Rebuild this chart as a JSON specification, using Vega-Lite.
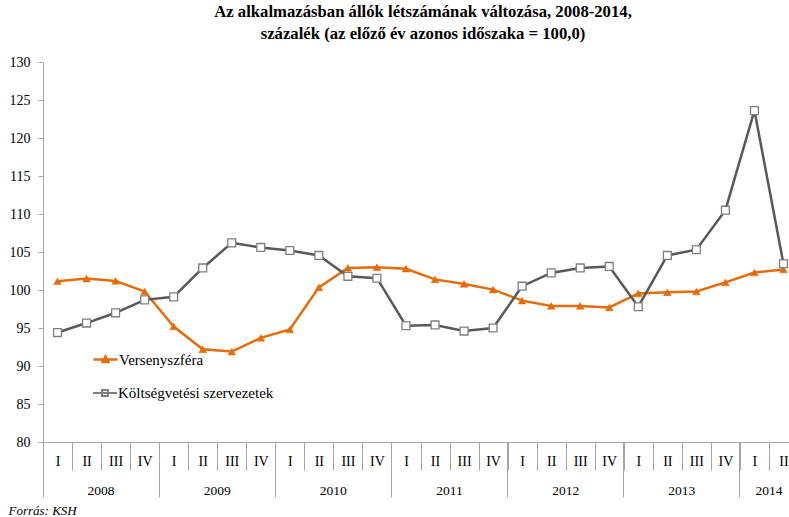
{
  "$schema": "https://vega.github.io/schema/vega-lite/v6.json",
  "autosize": {"type": "none"},
  "padding": {"left": 43, "top": 62, "right": 0, "bottom": 75},
  "width": 746,
  "height": 380,
  "background": "white",
  "config": {
    "view": {"stroke": null},
    "font": "Liberation Serif",
    "axis": {"labelFont": "Liberation Serif", "labelColor": "#000000", "labelFontSize": 13.5},
    "legend": {"labelFont": "Liberation Serif", "labelColor": "#000000", "labelFontSize": 15}
  },
  "title": {
    "text": ["Az alkalmazásban állók létszámának változása, 2008-2014,", "százalék (az előző év azonos időszaka = 100,0)"],
    "font": "Liberation Serif",
    "fontSize": 16.7,
    "fontWeight": "bold",
    "color": "#000000",
    "anchor": "middle",
    "lineHeight": 22,
    "offset": 12,
    "dx": 7
  },
  "datasets": {
    "series": [
      {"q": "2008-I", "s": "Versenyszféra", "v": 101.15},
      {"q": "2008-II", "s": "Versenyszféra", "v": 101.5},
      {"q": "2008-III", "s": "Versenyszféra", "v": 101.2},
      {"q": "2008-IV", "s": "Versenyszféra", "v": 99.8},
      {"q": "2009-I", "s": "Versenyszféra", "v": 95.2},
      {"q": "2009-II", "s": "Versenyszféra", "v": 92.2},
      {"q": "2009-III", "s": "Versenyszféra", "v": 91.9},
      {"q": "2009-IV", "s": "Versenyszféra", "v": 93.7},
      {"q": "2010-I", "s": "Versenyszféra", "v": 94.8},
      {"q": "2010-II", "s": "Versenyszféra", "v": 100.35},
      {"q": "2010-III", "s": "Versenyszféra", "v": 102.9},
      {"q": "2010-IV", "s": "Versenyszféra", "v": 103.0},
      {"q": "2011-I", "s": "Versenyszféra", "v": 102.8},
      {"q": "2011-II", "s": "Versenyszféra", "v": 101.4},
      {"q": "2011-III", "s": "Versenyszféra", "v": 100.8},
      {"q": "2011-IV", "s": "Versenyszféra", "v": 100.05},
      {"q": "2012-I", "s": "Versenyszféra", "v": 98.6},
      {"q": "2012-II", "s": "Versenyszféra", "v": 97.9},
      {"q": "2012-III", "s": "Versenyszféra", "v": 97.9},
      {"q": "2012-IV", "s": "Versenyszféra", "v": 97.7},
      {"q": "2013-I", "s": "Versenyszféra", "v": 99.55},
      {"q": "2013-II", "s": "Versenyszféra", "v": 99.7},
      {"q": "2013-III", "s": "Versenyszféra", "v": 99.8},
      {"q": "2013-IV", "s": "Versenyszféra", "v": 101.0},
      {"q": "2014-I", "s": "Versenyszféra", "v": 102.3},
      {"q": "2014-II", "s": "Versenyszféra", "v": 102.7},
      {"q": "2008-I", "s": "Költségvetési szervezetek", "v": 94.4},
      {"q": "2008-II", "s": "Költségvetési szervezetek", "v": 95.65},
      {"q": "2008-III", "s": "Költségvetési szervezetek", "v": 97.0},
      {"q": "2008-IV", "s": "Költségvetési szervezetek", "v": 98.7},
      {"q": "2009-I", "s": "Költségvetési szervezetek", "v": 99.1},
      {"q": "2009-II", "s": "Költségvetési szervezetek", "v": 102.9},
      {"q": "2009-III", "s": "Költségvetési szervezetek", "v": 106.2},
      {"q": "2009-IV", "s": "Költségvetési szervezetek", "v": 105.6},
      {"q": "2010-I", "s": "Költségvetési szervezetek", "v": 105.2},
      {"q": "2010-II", "s": "Költségvetési szervezetek", "v": 104.55},
      {"q": "2010-III", "s": "Költségvetési szervezetek", "v": 101.8},
      {"q": "2010-IV", "s": "Költségvetési szervezetek", "v": 101.55},
      {"q": "2011-I", "s": "Költségvetési szervezetek", "v": 95.3},
      {"q": "2011-II", "s": "Költségvetési szervezetek", "v": 95.4},
      {"q": "2011-III", "s": "Költségvetési szervezetek", "v": 94.6},
      {"q": "2011-IV", "s": "Költségvetési szervezetek", "v": 95.0},
      {"q": "2012-I", "s": "Költségvetési szervezetek", "v": 100.5},
      {"q": "2012-II", "s": "Költségvetési szervezetek", "v": 102.25},
      {"q": "2012-III", "s": "Költségvetési szervezetek", "v": 102.9},
      {"q": "2012-IV", "s": "Költségvetési szervezetek", "v": 103.1},
      {"q": "2013-I", "s": "Költségvetési szervezetek", "v": 97.8},
      {"q": "2013-II", "s": "Költségvetési szervezetek", "v": 104.55},
      {"q": "2013-III", "s": "Költségvetési szervezetek", "v": 105.3},
      {"q": "2013-IV", "s": "Költségvetési szervezetek", "v": 110.5},
      {"q": "2014-I", "s": "Költségvetési szervezetek", "v": 123.6},
      {"q": "2014-II", "s": "Költségvetési szervezetek", "v": 103.45}
    ]
  },
  "data": {"name": "series"},
  "encoding": {
    "y": {
      "field": "v", "type": "quantitative",
      "scale": {"domain": [80, 130], "nice": false, "zero": false},
      "axis": {
        "title": null, "values": [80, 85, 90, 95, 100, 105, 110, 115, 120, 125, 130],
        "labelOverlap": false, "grid": false, "tickSize": 5, "tickColor": "#A6A6A6", "domainColor": "#A6A6A6",
        "labelFont": "Liberation Serif", "labelFontSize": 14, "labelColor": "#000000", "labelPadding": 8
      }
    }
  },
  "resolve": {"axis": {"x": "independent"}},
  "layer": [
    {
      "transform": [{"filter": "datum.s === 'Versenyszféra'"}],
      "mark": {"type": "line", "color": "#E46C0A", "strokeWidth": 2.5},
      "encoding": {
        "x": {
          "field": "q", "type": "ordinal",
          "scale": {"domain": ["2008-I","2008-II","2008-III","2008-IV","2009-I","2009-II","2009-III","2009-IV","2010-I","2010-II","2010-III","2010-IV","2011-I","2011-II","2011-III","2011-IV","2012-I","2012-II","2012-III","2012-IV","2013-I","2013-II","2013-III","2013-IV","2014-I","2014-II"], "range": [0, 755], "paddingInner": 0, "paddingOuter": 0},
          "axis": {
            "orient": "bottom",
            "title": "Forrás: KSH",
            "titleFont": "Liberation Serif", "titleFontStyle": "italic", "titleFontWeight": "normal", "titleFontSize": 13, "titleColor": "#000000",
            "titleX": -35, "titleY": 72, "titleAlign": "left", "titleBaseline": "alphabetic",
            "labelExpr": "split(datum.label, '-')[1]",
            "labelAngle": 0, "labelFont": "Liberation Serif", "labelFontSize": 14, "labelColor": "#000000",
            "labelPadding": -9, "labelBaseline": "middle", "labelOverlap": false,
            "tickBand": "extent", "tickSize": 28, "tickColor": "#A6A6A6", "domainColor": "#A6A6A6", "grid": false
          }
        }
      }
    },
    {
      "transform": [{"filter": "datum.s !== 'Versenyszféra'"}],
      "mark": {"type": "line", "color": "#595959", "strokeWidth": 2.5},
      "encoding": {
        "x": {
          "field": "q", "type": "ordinal",
          "axis": {
            "orient": "bottom", "title": null,
            "values": ["2008-I", "2009-I", "2010-I", "2011-I", "2012-I", "2013-I", "2014-I"],
            "bandPosition": 0, "labels": false, "domain": false, "grid": false,
            "ticks": true, "tickSize": 55, "tickColor": "#A6A6A6"
          }
        }
      }
    },
    {
      "transform": [{"filter": "datum.s === 'Versenyszféra'"}],
      "mark": {"type": "point", "shape": "triangle-up", "filled": true, "stroke": "#E46C0A", "strokeWidth": 0.5, "opacity": 1, "size": 60},
      "encoding": {
        "x": {
          "field": "q", "type": "ordinal",
          "axis": {
            "orient": "bottom", "title": null,
            "values": ["2008-II", "2009-II", "2010-II", "2011-II", "2012-II", "2013-II", "2014-I"],
            "labelExpr": "slice(datum.label, 0, 4)", "labelOffset": 14.5,
            "labelAngle": 0, "labelFont": "Liberation Serif", "labelFontSize": 13.5, "labelColor": "#000000",
            "labelBaseline": "middle", "labelPadding": 48.7, "labelOverlap": false,
            "ticks": false, "tickSize": 0, "domain": false, "grid": false
          }
        },
        "fill": {"field": "s", "type": "nominal", "scale": {"domain": ["Versenyszféra"], "range": ["#E46C0A"]},
          "legend": {
            "orient": "none", "legendX": 49, "legendY": 284, "title": null,
            "symbolType": "M-1,0H1M0,-0.24L0.24,0.2L-0.24,0.2Z",
            "symbolSize": 576, "symbolStrokeWidth": 2.5, "symbolStrokeColor": "#E46C0A", "symbolFillColor": "#E46C0A",
            "labelOffset": 0, "labelFont": "Liberation Serif", "labelFontSize": 15, "labelColor": "#000000"
          }}
      }
    },
    {
      "transform": [{"filter": "datum.s !== 'Versenyszféra'"}],
      "mark": {"type": "point", "shape": "square", "filled": false, "fill": "#FFFFFF", "strokeWidth": 1.3, "opacity": 1, "size": 62},
      "encoding": {
        "x": {
          "field": "q", "type": "ordinal",
          "axis": {"orient": "bottom", "title": null, "labels": false, "ticks": false, "domain": false, "grid": false}
        },
        "stroke": {"field": "s", "type": "nominal", "scale": {"domain": ["Költségvetési szervezetek"], "range": ["#7F7F7F"]},
          "legend": {
            "orient": "none", "legendX": 49, "legendY": 318, "title": null,
            "symbolType": "M-1,0H1M-0.24,-0.24H0.24V0.24H-0.24Z",
            "symbolSize": 576, "symbolStrokeWidth": 2, "symbolFillColor": "#FFFFFF", "symbolStrokeColor": "#666666",
            "labelOffset": 0, "labelFont": "Liberation Serif", "labelFontSize": 15, "labelColor": "#000000"
          }}
      }
    }
  ]
}
